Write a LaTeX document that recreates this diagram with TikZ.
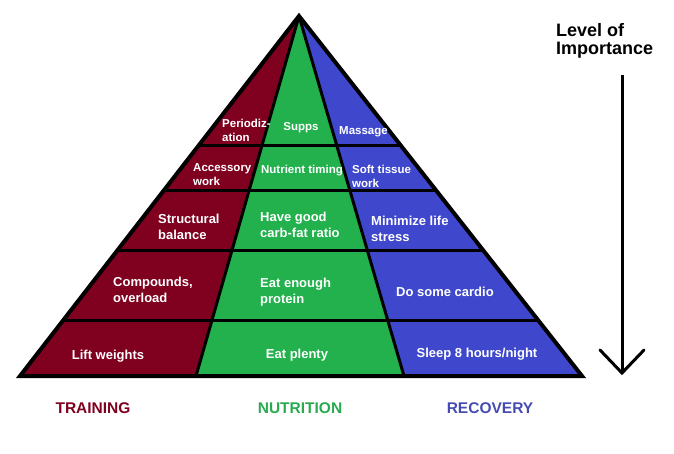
\documentclass[tikz,border=0pt]{standalone}
\usepackage{fontspec}
\setmainfont{Liberation Sans}
\usetikzlibrary{calc}
\definecolor{trainred}{RGB}{128,0,32}
\definecolor{nutrigreen}{RGB}{34,177,76}
\definecolor{recovblue}{RGB}{63,72,204}
\definecolor{titlegreen}{RGB}{40,170,80}
\definecolor{titleblue}{RGB}{70,75,180}
\tikzset{
  cell text/.style={
    text=white, font=\bfseries\fontsize{13}{16.5}\selectfont, align=left, inner sep=0pt
  },
  small cell text/.style={
    text=white, font=\bfseries\fontsize{11.5}{14}\selectfont, align=left, inner sep=0pt
  },
  column title/.style={
    font=\bfseries\fontsize{15.5}{18}\selectfont, inner sep=0pt
  },
  tier line/.style={
    draw=black, line width=3pt
  },
  outline/.style={
    draw=black, line width=4pt, line join=miter
  }
}

\begin{document}
\begin{tikzpicture}[x=1pt, y=-1pt]
\useasboundingbox (0,0) rectangle (674,453);

% ------------------------------------------------
% pyramid: three columns, five tiers
% ------------------------------------------------
\coordinate (apex)  at (299,16);
\coordinate (baseL) at (20,376);
\coordinate (baseR) at (582,376);
\coordinate (divL)  at (196,376);
\coordinate (divR)  at (404,376);

\fill[trainred]   (apex) -- (baseL) -- (divL) -- cycle;
\fill[nutrigreen] (apex) -- (divL) -- (divR) -- cycle;
\fill[recovblue]  (apex) -- (divR) -- (baseR) -- cycle;

\begin{scope}
  \clip (apex) -- (baseL) -- (baseR) -- cycle;
  \foreach \y in {145,190,250,320}
    \draw[tier line] (0,\y) -- (674,\y);
  \draw[tier line] (apex) -- (divL);
  \draw[tier line] (apex) -- (divR);
\end{scope}
\draw[outline] (apex) -- (baseL) -- (baseR) -- cycle;

% ------------------------------------------------
% tier 1 (top)
% ------------------------------------------------
\node[small cell text, anchor=west] (perio)   at (222,130) {Periodiz-\\ation};
\node[small cell text]              (supps)   at (301,128) {Supps};
\node[small cell text, anchor=west] (massage) at (339,132) {Massage};

% ------------------------------------------------
% tier 2
% ------------------------------------------------
\node[small cell text, anchor=west] (accessory) at (193,175) {Accessory\\work};
\node[small cell text]              (timing)    at (302,171) {Nutrient timing};
\node[small cell text, anchor=west] (softtissue) at (352,176) {Soft tissue\\work};

% ------------------------------------------------
% tier 3
% ------------------------------------------------
\node[cell text, anchor=west] (structural) at (158,227) {Structural\\balance};
\node[cell text, anchor=west] (carbfat)    at (260,225) {Have good\\carb-fat ratio};
\node[cell text, anchor=west] (stress)     at (371,229) {Minimize life\\stress};

% ------------------------------------------------
% tier 4
% ------------------------------------------------
\node[cell text, anchor=west] (compounds) at (113,290) {Compounds,\\overload};
\node[cell text, anchor=west] (protein)   at (260,292) {Eat enough\\protein};
\node[cell text, anchor=west] (cardio)    at (396,292) {Do some cardio};

% ------------------------------------------------
% tier 5 (base)
% ------------------------------------------------
\node[cell text] (lift)   at (108,356) {Lift weights};
\node[cell text] (plenty) at (297,355) {Eat plenty};
\node[cell text] (sleep)  at (477,354) {Sleep 8 hours/night};

% ------------------------------------------------
% column titles
% ------------------------------------------------
\node[column title, text=trainred]   (training)  at (93,408)  {TRAINING};
\node[column title, text=titlegreen] (nutrition) at (300,408) {NUTRITION};
\node[column title, text=titleblue]  (recovery)  at (490,408) {RECOVERY};

% ------------------------------------------------
% importance arrow
% ------------------------------------------------
\node[column title, font=\bfseries\fontsize{18}{18.5}\selectfont, align=left, anchor=west]
  (importance) at (556,41) {Level of\\Importance};
\coordinate (arrTop) at (622,75);
\coordinate (arrTip) at (622,373);
\draw[line width=3pt] (arrTop) -- (arrTip);
\draw[line width=3pt, line cap=round, line join=miter]
  ($(arrTip)+(-22,-23)$) -- (arrTip) -- ($(arrTip)+(22,-23)$);
\end{tikzpicture}
\end{document}
